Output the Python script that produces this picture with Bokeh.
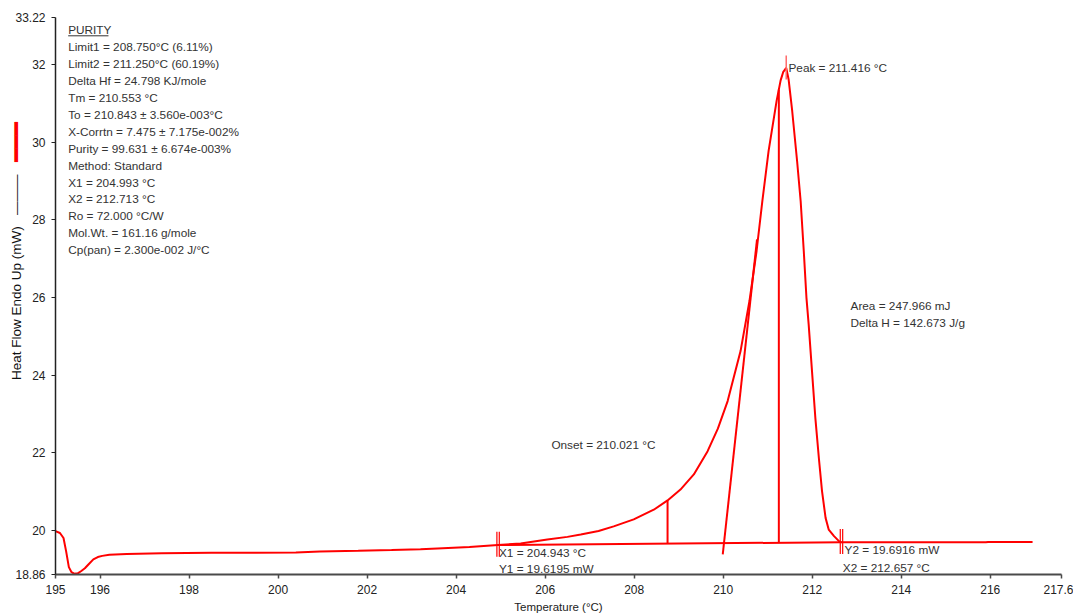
import numpy as np
from bokeh.plotting import figure
from bokeh.models import Range1d, FixedTicker, Label, LinearAxis
from bokeh.embed import file_html
from bokeh.resources import INLINE

# DSC heat-flow trace (temperature in deg C, heat flow in mW)
temp_c = [195.00, 195.10, 195.18, 195.24, 195.30, 195.36, 195.42, 195.50, 195.58,
          195.66, 195.75, 195.85, 195.95, 196.05, 196.21, 196.60, 197.39, 198.50,
          199.50, 200.40, 200.94, 201.80, 202.55, 203.20, 203.58, 204.30, 204.94,
          205.45, 206.05, 206.50, 206.80, 207.20, 207.54, 207.99, 208.44, 208.75,
          209.04, 209.34, 209.65, 209.88, 210.10, 210.39, 210.59, 210.75, 210.88,
          211.02, 211.20, 211.29, 211.35, 211.416, 211.47, 211.55, 211.66, 211.74,
          211.81, 211.87, 211.92, 212.00, 212.07, 212.15, 212.22, 212.30, 212.37,
          212.49, 212.60, 212.66, 213.50, 214.50, 215.90, 215.95, 216.95]
heat_flow_mw = [19.98, 19.93, 19.80, 19.45, 19.05, 18.92, 18.88, 18.89, 18.95,
                19.02, 19.13, 19.25, 19.31, 19.34, 19.37, 19.39, 19.41, 19.42,
                19.42, 19.43, 19.45, 19.47, 19.49, 19.51, 19.53, 19.57, 19.62,
                19.66, 19.76, 19.83, 19.89, 19.98, 20.10, 20.28, 20.53, 20.77,
                21.05, 21.44, 22.04, 22.62, 23.33, 24.62, 25.91, 27.20, 28.49,
                29.78, 31.07, 31.60, 31.82, 31.92, 31.62, 30.81, 29.52, 28.49,
                27.20, 26.00, 25.31, 24.02, 22.90, 21.85, 21.01, 20.32, 20.02,
                19.85, 19.72, 19.69, 19.69, 19.69, 19.69, 19.70, 19.70]

# Analysis results
x1_c, y1_mw = 204.943, 19.6195
x2_c, y2_mw = 212.657, 19.6916
peak_c = 211.416
onset_c = 210.021
limit1_c, limit2_c = 208.750, 211.250
tangent_c = [209.99, 210.76]
tangent_mw = [19.38, 27.50]

x_ticks = [195, 196, 198, 200, 202, 204, 206, 208, 210, 212, 214, 216, 217.6]
y_ticks = [18.86, 20, 22, 24, 26, 28, 30, 32, 33.22]
x_tick_labels = ["195", "196", "198", "200", "202", "204", "206", "208", "210",
                 "212", "214", "216", "217.6"]
y_tick_labels = ["18.86", "20", "22", "24", "26", "28", "30", "32", "33.22"]

purity_lines = [
    "PURITY",
    "Limit1 = 208.750°C (6.11%)",
    "Limit2 = 211.250°C (60.19%)",
    "Delta Hf = 24.798 KJ/mole",
    "Tm = 210.553 °C",
    "To = 210.843 ± 3.560e-003°C",
    "X-Corrtn = 7.475 ± 7.175e-002%",
    "Purity = 99.631 ± 6.674e-003%",
    "Method: Standard",
    "X1 = 204.993 °C",
    "X2 = 212.713 °C",
    "Ro = 72.000 °C/W",
    "Mol.Wt. = 161.16 g/mole",
    "Cp(pan) = 2.300e-002 J/°C",
]

RED = "#ff0000"
TEXT = "#333333"
FONT = "Liberation Sans"
FS = "11.8px"
NBSP = "\u00a0"

p = figure(width=1073, height=615, output_backend="svg", toolbar_location=None,
           x_range=Range1d(195, 217.6), y_range=Range1d(18.86, 33.22),
           min_border_left=55, min_border_right=12, min_border_top=17,
           min_border_bottom=41)
p.outline_line_color = None
p.xgrid.visible = False
p.ygrid.visible = False
p.background_fill_color = "white"
p.border_fill_color = "white"

x_axis = p.xaxis[0]
y_axis = p.yaxis[0]
for ax, ticks, labels in ((x_axis, x_ticks, x_tick_labels),
                          (y_axis, y_ticks, y_tick_labels)):
    ax.ticker = FixedTicker(ticks=ticks)
    ax.major_label_overrides = {t: s for t, s in zip(ticks, labels)}
    ax.minor_tick_line_color = None
    ax.major_tick_in = 0
    ax.major_tick_out = 4
    ax.major_label_text_font = FONT
    ax.major_label_text_font_size = "12px"
    ax.major_label_text_color = "#222222"
    ax.axis_label_text_font = FONT
    ax.axis_label_text_font_style = "normal"
    ax.axis_label_text_color = "#222222"

x_axis.axis_line_color = "#4a4a4a"
x_axis.axis_line_width = 2
x_axis.major_tick_line_color = "#4a4a4a"
x_axis.major_tick_line_width = 1.5
x_axis.major_label_standoff = 6
x_axis.axis_label = "Temperature (°C)"
x_axis.axis_label_text_font_size = "11.5px"
x_axis.axis_label_standoff = 4

y_axis.axis_line_color = "#222222"
y_axis.axis_line_width = 1.5
y_axis.major_tick_line_color = "#222222"
y_axis.major_label_standoff = 6
# y title followed by the black legend stroke of the trace
y_axis.axis_label = NBSP * 10 + "Heat Flow Endo Up (mW)" + NBSP * 3 + "\u2014" * 3
y_axis.axis_label_text_font_size = "13.5px"
y_axis.axis_label_text_color = "#111111"
y_axis.axis_label_standoff = -12

# red legend stroke above the y title
swatch_axis = LinearAxis(ticker=FixedTicker(ticks=[]), axis_line_color=None,
                         major_tick_line_color=None, minor_tick_line_color=None,
                         axis_label=NBSP * 44 + "\u2501" * 3,
                         axis_label_text_font="DejaVu Sans",
                         axis_label_text_font_size="22px",
                         axis_label_text_font_style="normal",
                         axis_label_text_color=RED,
                         axis_label_standoff=-22)
p.add_layout(swatch_axis, "left")

# thermogram
p.line(temp_c, heat_flow_mw, line_color=RED, line_width=2)

# integration baseline and its end markers
p.line([x1_c, x2_c], [y1_mw, y2_mw], line_color=RED, line_width=2)
for xc, yc in ((x1_c, y1_mw), (x2_c, y2_mw)):
    for dx in (-0.027, 0.027):
        p.line([xc + dx, xc + dx], [yc - 0.30, yc + 0.34], line_color=RED, line_width=1.2)

def baseline_at(t):
    return y1_mw + (t - x1_c) * (y2_mw - y1_mw) / (x2_c - x1_c)

# partial-area limits
for lim in (limit1_c, limit2_c):
    top = float(np.interp(lim, temp_c, heat_flow_mw))
    p.line([lim, lim], [baseline_at(lim), top], line_color=RED, line_width=2)

# inflection tangent through the onset
p.line(tangent_c, tangent_mw, line_color=RED, line_width=2)

# peak marker
peak_mw = float(np.interp(peak_c, temp_c, heat_flow_mw))
p.line([peak_c, peak_c], [peak_mw - 0.30, peak_mw + 0.32], line_color="#ff6a6a", line_width=1.5)

def label(x, y, text, **kw):
    opts = dict(text_font=FONT, text_font_size=FS, text_color=TEXT,
                text_baseline="middle", text_align="left")
    opts.update(kw)
    p.add_layout(Label(x=x, y=y, text=text, **opts))

# purity report block
y0, step = 32.895, 0.4366
for i, line in enumerate(purity_lines):
    label(195.285, y0 - i * step, line)
p.line([195.285, 196.19], [32.748, 32.748], line_color=TEXT, line_width=1)

label(peak_c + 0.05, peak_mw, f"Peak = {peak_c:.3f} °C")
label(206.14, 22.21, f"Onset = {onset_c:.3f} °C")
label(212.86, 25.79, "Area = 247.966 mJ")
label(212.86, 25.35, "Delta H = 142.673 J/g")
label(x1_c + 0.02, 19.41, f"X1 = {x1_c:.3f} °C")
label(x1_c + 0.02, 18.99, f"Y1 = {y1_mw:.4f} mW")
label(x2_c + 0.07, 19.48, f"Y2 = {y2_mw:.4f} mW")
label(x2_c + 0.03, 19.04, f"X2 = {x2_c:.3f} °C")

open("out.html", "w").write(file_html(p, INLINE))
